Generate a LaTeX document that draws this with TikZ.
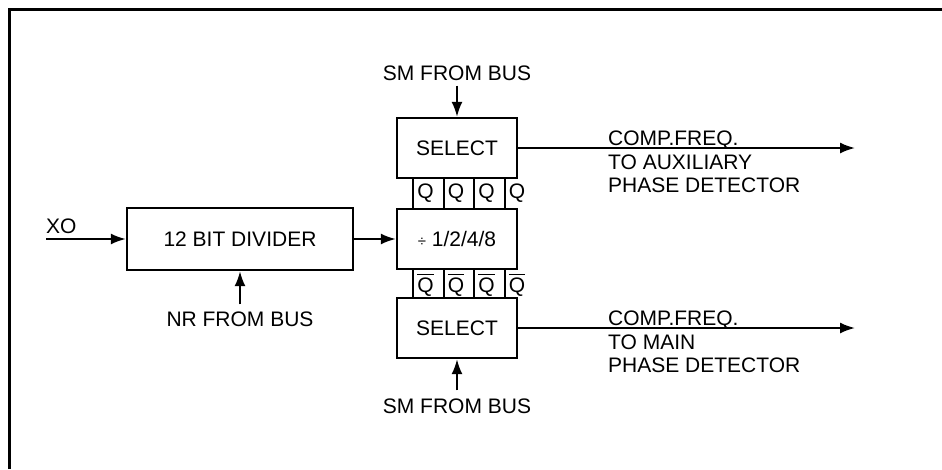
\documentclass[tikz,border=0pt]{standalone}
\usepackage{fontspec}
\setmainfont{Liberation Sans}
\usetikzlibrary{arrows.meta}
\tikzset{
  font=\fontsize{21}{23.5}\selectfont,
  >={Latex[length=15pt,width=11pt]},
  blk/.style={draw=black, line width=2.4pt, minimum width=120pt, minimum height=60pt, inner sep=0pt},
  wire/.style={draw=black, line width=2pt},
  sig/.style={wire, ->},
  lab/.style={inner sep=0pt},
}
\newcommand{\nQ}{\leavevmode\vbox{\hrule height 1.8pt\kern 2pt\hbox{Q}}}
\begin{document}
\begin{tikzpicture}[x=1pt,y=-1pt]
\useasboundingbox (0,0) rectangle (942,469);
% frame, open to the right and bottom
\draw[line width=3pt] (9,469) -- (9,9) -- (942,9);
% blocks
\node[blk, minimum width=226pt, minimum height=62pt] (div) at (240,239) {12 BIT DIVIDER};
\node[blk] (pre) at (457,239) {{\fontsize{15}{15}\selectfont ÷} 1/2/4/8};
\node[blk] (selA) at (457,148) {SELECT};
\node[blk] (selB) at (457,328) {SELECT};
% Q and /Q cells between the blocks
\foreach \i in {0,...,3}{
  \draw[wire] (413+30.5*\i,178) -- (413+30.5*\i,209);
  \node[lab] (q\i) at (425.5+30.5*\i,193) {Q};
  \draw[wire] (413+30.5*\i,269) -- (413+30.5*\i,298);
  \node[lab, anchor=base] (nq\i) at (425.5+30.5*\i,292) {\nQ};
}
% input
\coordinate (xo) at (46,239);
\node[lab, anchor=south west] (xolab) at (46,234) {XO};
\draw[sig] (xo) -- (div.west);
\draw[sig] (div.east) -- (pre.west);
% bus inputs
\node[lab] (nr) at (240,319) {NR FROM BUS};
\draw[sig, shorten <=7pt] (nr.north) -- (div.south);
\node[lab] (smA) at (457,73) {SM FROM BUS};
\draw[sig, shorten <=5pt] (smA.south) -- (selA.north);
\node[lab] (smB) at (457,406) {SM FROM BUS};
\draw[sig, shorten <=8pt] (smB.north) -- (selB.south);
% outputs
\coordinate (outA) at (855,148);
\coordinate (outB) at (855,328);
\draw[sig] (selA.east) -- (outA);
\draw[sig] (selB.east) -- (outB);
\node[lab, align=left, anchor=north west] (txA) at (608,131) {COMP.FREQ.\\TO AUXILIARY\\PHASE DETECTOR};
\node[lab, align=left, anchor=north west] (txB) at (608,311) {COMP.FREQ.\\TO MAIN\\PHASE DETECTOR};
\end{tikzpicture}
\end{document}
